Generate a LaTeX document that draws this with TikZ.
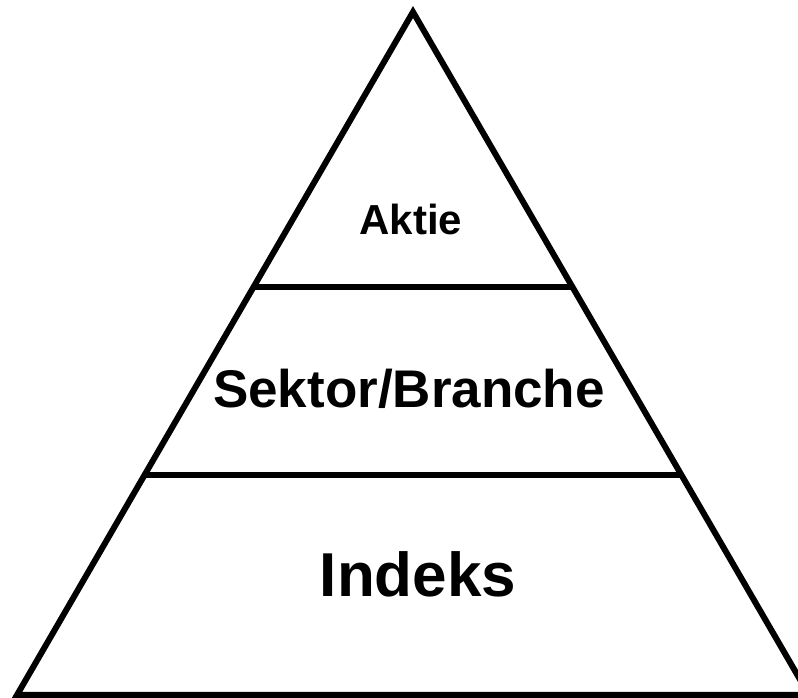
\documentclass[tikz,border=0pt]{standalone}
\usepackage{fontspec}
\setmainfont{Liberation Sans}
\usetikzlibrary{calc}

\begin{document}
\begin{tikzpicture}[
          x=1pt, y=1pt,
          edge/.style={line width=6pt, line join=miter},
          layer/.style={draw=none, fill=none, anchor=base, font=\bfseries}
        ]

        \useasboundingbox (0,0) rectangle (798,698);
        \clip (0,0) rectangle (798,698);

        \coordinate (apex) at (413,686);
        \coordinate (bl) at (17,3);
        \coordinate (br) at (809,3);

        \draw[edge] (apex) -- (bl) -- (br) -- cycle;

        \coordinate (l1) at ($(apex)!0.4026!(bl)$);
        \coordinate (r1) at ($(apex)!0.4026!(br)$);
        \coordinate (l2) at ($(apex)!0.678!(bl)$);
        \coordinate (r2) at ($(apex)!0.678!(br)$);
        \draw[edge] (l1) -- (r1);
        \draw[edge] (l2) -- (r2);

        \node[layer, font=\bfseries\fontsize{42}{48}\selectfont] (aktie) at (411,463) {Aktie};
        \node[layer, font=\bfseries\fontsize{53}{60}\selectfont] (sektor) at (409,290) {Sektor/Branche};
        \node[layer, font=\bfseries\fontsize{62}{70}\selectfont] (indeks) at (418,101) {Indeks};

\end{tikzpicture}
\end{document}
